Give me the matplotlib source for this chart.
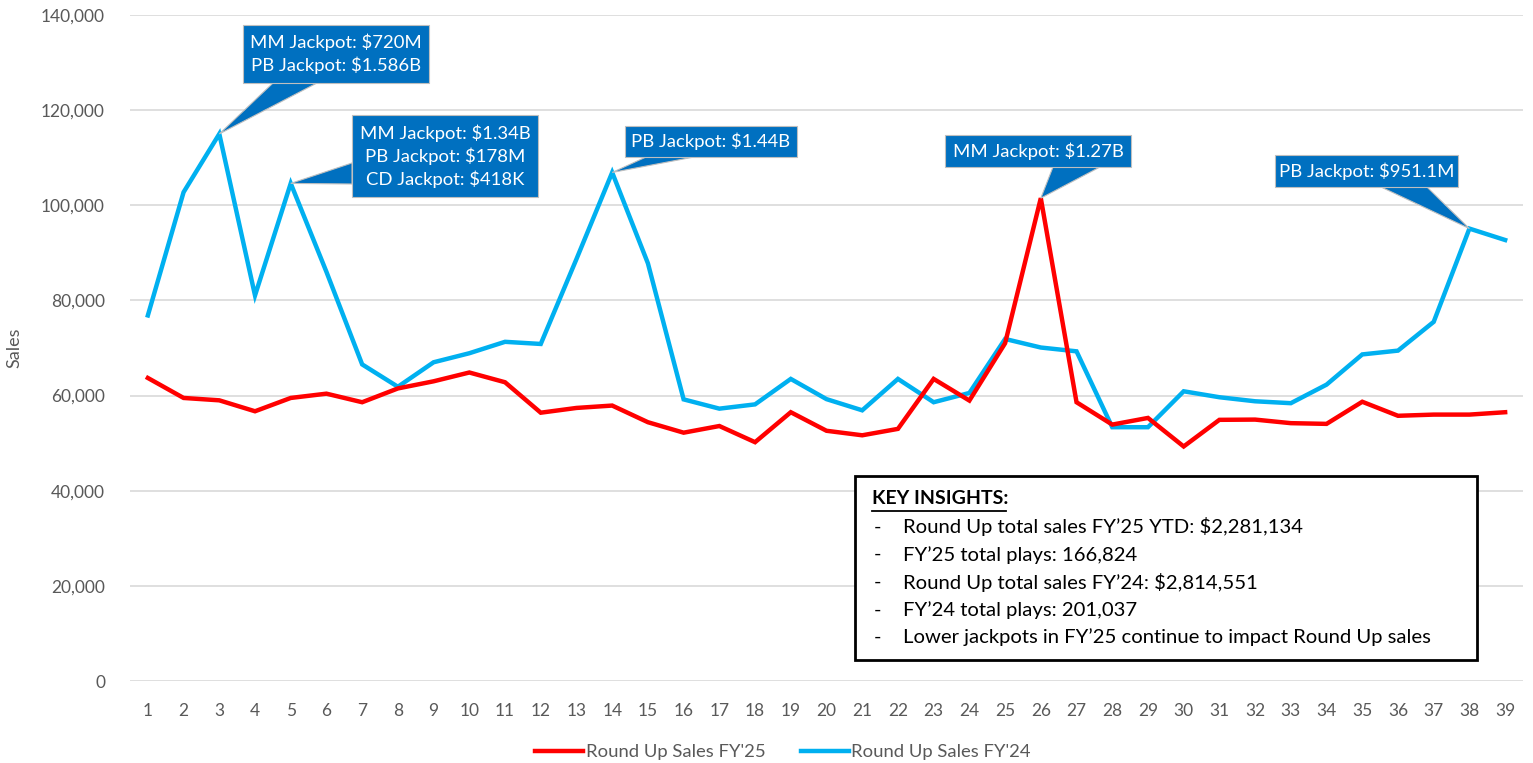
import matplotlib
matplotlib.use("Agg")
import matplotlib.pyplot as plt
from matplotlib.patches import Rectangle, Polygon
from matplotlib.lines import Line2D
from matplotlib.ticker import FuncFormatter

plt.rcParams['font.family'] = ['Lato', 'DejaVu Sans']

# ---------------- data ----------------
weeks = list(range(1, 40))
sales_fy25 = [63700, 59500, 59000, 56700, 59500, 60400, 58600, 61500, 63000, 64850,
              62800, 56400, 57400, 57900, 54400, 52200, 53600, 50200, 56500, 52600,
              51650, 53000, 63500, 58950, 71000, 101500, 58600, 53900, 55300, 49300,
              54900, 54950, 54200, 54050, 58700, 55750, 56000, 56000, 56500]
sales_fy24 = [76850, 102750, 115000, 81050, 104600, 86000, 66550, 61850, 67000, 68900,
              71300, 70850, 88700, 106900, 87800, 59200, 57250, 58150, 63500, 59250,
              56900, 63500, 58600, 60550, 71900, 70100, 69300, 53350, 53350, 60900,
              59650, 58800, 58400, 62300, 68650, 69450, 75500, 95100, 92700]
series_labels = ["Round Up Sales FY'25", "Round Up Sales FY'24"]
y_ticks = [0, 20000, 40000, 60000, 80000, 100000, 120000, 140000]

callout_texts = [
    "MM Jackpot: $720M\nPB Jackpot: $1.586B",
    "MM Jackpot: $1.34B\nPB Jackpot: $178M\nCD Jackpot: $418K",
    "PB Jackpot: $1.44B",
    "MM Jackpot: $1.27B",
    "PB Jackpot: $951.1M",
]
callout_weeks = [3, 5, 14, 26, 38]
callout_series = ["fy24", "fy24", "fy24", "fy25", "fy24"]

insights_title = "KEY INSIGHTS:"
insights = [
    "Round Up total sales FY\u201925 YTD: $2,281,134",
    "FY\u201925 total plays: 166,824",
    "Round Up total sales FY\u201924: $2,814,551",
    "FY\u201924 total plays: 201,037",
    "Lower jackpots in FY\u201925 continue to impact Round Up sales",
]

# ---------------- figure ----------------
W, H = 1533, 763
fig = plt.figure(figsize=(W / 100, H / 100), dpi=100)
ax_l, ax_r, ax_t, ax_b = 130, 1523, 15, 681
ax = fig.add_axes([ax_l / W, 1 - ax_b / H, (ax_r - ax_l) / W, (ax_b - ax_t) / H])

RED = '#FF0000'
BLUE = '#00B0F0'
GREY_TXT = '#595959'

ax.plot(weeks, sales_fy25, color=RED, lw=3.2, solid_joinstyle='miter', zorder=4)
ax.plot(weeks, sales_fy24, color=BLUE, lw=3.2, solid_joinstyle='miter', zorder=3)

ax.set_xlim(0.5, 39.5)
ax.set_ylim(0, 140000)
ax.set_yticks(y_ticks)
ax.yaxis.set_major_formatter(FuncFormatter(lambda v, p: f"{int(v):,}"))
ax.set_xticks(weeks)
ax.set_xticklabels([str(w) for w in weeks])
ax.grid(axis='y', color='#D9D9D9', lw=1.2)
ax.set_axisbelow(True)
for s in ['top', 'right', 'left', 'bottom']:
    ax.spines[s].set_visible(False)
ax.tick_params(axis='both', length=0, colors=GREY_TXT, labelsize=12.5)
ax.tick_params(axis='y', pad=18)
ax.tick_params(axis='x', pad=16)
ax.set_ylabel("Sales", fontsize=13, color=GREY_TXT)
ax.yaxis.set_label_coords(-0.077, 0.5)


# ---------------- callouts (pixel-space helpers) ----------------
def px2data(px, py):
    xd = 0.5 + (px - ax_l) / (ax_r - ax_l) * 39.0
    yd = (ax_b - py) / (ax_b - ax_t) * 140000
    return xd, yd


BOX_BLUE = '#0070C0'
# box: (left, top, right, bottom) in px; wedge base points in px
boxes = [
    ((243, 25, 429, 83), [(273, 83), (317, 83)]),
    ((352, 115, 538, 197), [(352, 163), (352, 184)]),
    ((625, 126, 797, 157), [(646, 157), (694, 157)]),
    ((945, 135, 1131, 167), [(1053, 167), (1100, 167)]),
    ((1275, 155, 1458, 187), [(1381, 187), (1427, 187)]),
]

for (box, base), txt, wk, ser in zip(boxes, callout_texts, callout_weeks, callout_series):
    vals = sales_fy24 if ser == "fy24" else sales_fy25
    apex = (wk, vals[wk - 1])
    l, t, r, b = box
    x0, y1 = px2data(l, t)
    x1, y0 = px2data(r, b)
    b1 = px2data(*base[0])
    b2 = px2data(*base[1])
    ax.add_patch(Polygon([b1, b2, apex], closed=True, facecolor=BOX_BLUE,
                         edgecolor='#BFBFBF', lw=0.8, zorder=6, clip_on=False))
    ax.add_patch(Rectangle((x0, y0), x1 - x0, y1 - y0, facecolor=BOX_BLUE,
                           edgecolor='#BFBFBF', lw=0.8, zorder=7, clip_on=False))
    ax.text((x0 + x1) / 2, (y0 + y1) / 2, txt, color='white', fontsize=13.3,
            ha='center', va='center', multialignment='center', linespacing=1.38,
            zorder=8)

# ---------------- key insights box ----------------
def figxy(px, py):
    return px / W, 1 - py / H


bl = figxy(855, 660)
tr = figxy(1477, 476)
fig.patches.append(Rectangle(bl, tr[0] - bl[0], tr[1] - bl[1], transform=fig.transFigure,
                             facecolor='white', edgecolor='black', lw=2.0, zorder=10))
tx, ty = figxy(872, 499)
fig.text(tx, ty, insights_title, fontsize=14, fontweight='bold', color='black',
         va='center', ha='left', zorder=11)
# underline
ux0, uy = figxy(872, 511)
ux1, _ = figxy(1006, 511)
fig.add_artist(Line2D([ux0, ux1], [uy, uy], transform=fig.transFigure, color='black', lw=1.3, zorder=11))
for i, line in enumerate(insights):
    py = 527 + i * 27.6
    dx, dy = figxy(874, py)
    fig.text(dx, dy, "-", fontsize=14.6, color='black', va='center', ha='left', zorder=11)
    lx, ly = figxy(903, py)
    fig.text(lx, ly, line, fontsize=14.6, color='black', va='center', ha='left', zorder=11)

# ---------------- legend ----------------
handles = [Line2D([], [], color=RED, lw=3.2), Line2D([], [], color=BLUE, lw=3.2)]
lx, ly = figxy(783, 752)
leg = fig.legend(handles, series_labels, loc='center', bbox_to_anchor=(lx, ly), ncol=2,
                 frameon=False, fontsize=13.3, handlelength=2.6, handletextpad=0.15,
                 columnspacing=1.9)
for t in leg.get_texts():
    t.set_color(GREY_TXT)

fig.savefig("out.png", dpi=100)
